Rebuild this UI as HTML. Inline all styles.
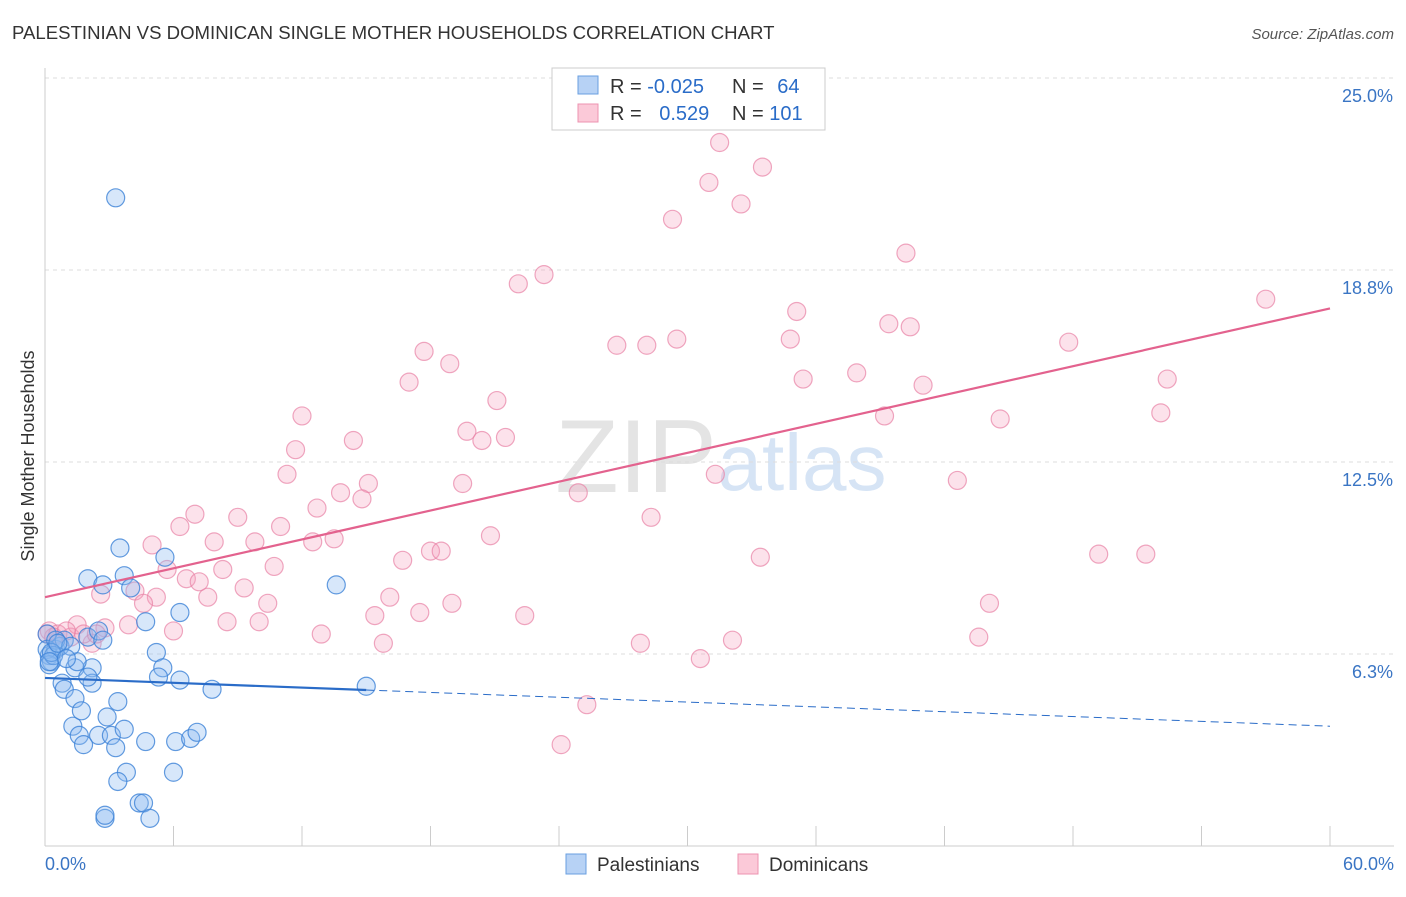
<!DOCTYPE html>
<html><head><meta charset="utf-8"><style>
body{margin:0;background:#fff;font-family:"Liberation Sans",sans-serif;}
svg text{font-family:"Liberation Sans",sans-serif;}
</style></head><body>
<svg id="chart" width="1406" height="892" viewBox="0 0 1406 892" xmlns="http://www.w3.org/2000/svg">
<text x="12" y="39" font-size="18.6" fill="#333">PALESTINIAN VS DOMINICAN SINGLE MOTHER HOUSEHOLDS CORRELATION CHART</text>
<text x="1394" y="39" font-size="15" fill="#555" font-style="italic" text-anchor="end">Source: ZipAtlas.com</text>
<text x="636" y="492" font-size="104" fill="#e4e4e4" font-family="Liberation Serif" text-anchor="middle">ZIP</text>
<text x="802" y="490" font-size="80" fill="#d6e4f5" text-anchor="middle">atlas</text>
<g id="grid"></g><g id="axes"></g><g id="pts"></g><g id="trends"></g>
<text transform="translate(34,456) rotate(-90)" font-size="18" fill="#333" text-anchor="middle">Single Mother Households</text>
<text x="45" y="870" font-size="18" fill="#3a75c4">0.0%</text>
<text x="1394" y="870" font-size="18" fill="#3a75c4" text-anchor="end">60.0%</text>
<g>
<rect x="552" y="68" width="273" height="62" fill="#fff" stroke="#ccc"/>
<rect x="578" y="76" width="20" height="18" fill="#b7d2f5" stroke="#6a9fe0"/>
<rect x="578" y="104" width="20" height="18" fill="#fbc9d8" stroke="#ec93b0"/>
<text x="610" y="93" font-size="20" fill="#333">R = <tspan fill="#2a6cc8">-0.025</tspan></text>
<text x="732" y="93" font-size="20" fill="#333">N = <tspan fill="#2a6cc8" dx="8">64</tspan></text>
<text x="610" y="120" font-size="20" fill="#333">R = <tspan fill="#2a6cc8" dx="12">0.529</tspan></text>
<text x="732" y="120" font-size="20" fill="#333">N = <tspan fill="#2a6cc8">101</tspan></text>
</g>
<g>
<rect x="566" y="854" width="20" height="20" fill="#b7d2f5" stroke="#6a9fe0"/>
<text x="597" y="871" font-size="19" fill="#333">Palestinians</text>
<rect x="738" y="854" width="20" height="20" fill="#fbc9d8" stroke="#ec93b0"/>
<text x="769" y="871" font-size="19" fill="#333">Dominicans</text>
</g>
</svg>
<script>
const yTicks=[6.25,12.5,18.75,25];
const yTickLabels=["6.3%","12.5%","18.8%","25.0%"];
const xTicks=[0,6,12,18,24,30,36,42,48,54,60];
const palX=[3.3,0.2,0.5,0.7,0.3,0.9,2.0,2.5,2.0,2.7,3.5,3.7,4.0,4.7,5.6,6.3,5.2,5.5,5.3,6.3,7.8,13.6,15.0,0.8,0.9,1.4,2.2,2.2,2.0,1.5,1.4,1.3,1.7,3.4,2.9,1.6,1.8,2.5,3.1,3.3,3.7,3.8,3.4,4.7,6.1,6.8,7.1,6.0,4.4,4.6,2.8,2.8,4.9,0.1,0.1,0.2,0.5,2.7,1.2,0.4,0.3,0.6,1.0,0.2];
const palY=[21.1,6.2,6.4,6.5,6.0,6.7,6.8,7.0,8.7,8.5,9.7,8.8,8.4,7.3,9.4,7.6,6.3,5.8,5.5,5.4,5.1,8.5,5.2,5.3,5.1,5.8,5.8,5.3,5.5,6.0,4.8,3.9,4.4,4.7,4.2,3.6,3.3,3.6,3.6,3.2,3.8,2.4,2.1,3.4,3.4,3.5,3.7,2.4,1.4,1.4,0.9,1.0,0.9,6.9,6.4,5.9,6.7,6.7,6.5,6.2,6.3,6.6,6.1,6.0];
const domX=[31.5,33.5,31.0,32.5,29.3,40.2,23.3,22.1,57.0,35.1,39.4,40.4,29.5,26.7,28.1,34.8,47.8,17.7,18.9,17.0,35.4,37.9,52.4,41.0,21.1,12.0,39.2,44.6,52.1,19.7,20.4,21.5,14.4,11.7,11.3,31.3,42.6,19.5,15.1,13.8,14.8,24.9,12.7,7.0,6.3,9.0,11.0,28.3,20.8,13.5,12.5,9.8,7.9,5.0,18.0,18.5,49.2,51.4,33.4,16.7,10.7,8.3,5.7,6.6,7.2,9.3,4.2,2.6,7.6,5.2,16.1,4.6,10.4,19.0,44.1,15.4,17.5,22.4,8.5,10.0,3.9,6.0,2.8,12.9,43.6,32.1,27.8,15.8,30.6,25.3,24.1,0.2,0.6,1.2,1.5,2.2,1.8,0.4,1.0,2.4,0.1];
const domY=[22.9,22.1,21.6,20.9,20.4,19.3,18.6,18.3,17.8,17.4,17.0,16.9,16.5,16.3,16.3,16.5,16.4,16.1,15.7,15.1,15.2,15.4,15.2,15.0,14.5,14.0,14.0,13.9,14.1,13.5,13.2,13.3,13.2,12.9,12.1,12.1,11.9,11.8,11.8,11.5,11.3,11.5,11.0,10.8,10.4,10.7,10.4,10.7,10.1,10.0,9.9,9.9,9.9,9.8,9.6,9.6,9.5,9.5,9.4,9.3,9.1,9.0,9.0,8.7,8.6,8.4,8.3,8.2,8.1,8.1,8.1,7.9,7.9,7.9,7.9,7.5,7.6,7.5,7.3,7.3,7.2,7.0,7.1,6.9,6.8,6.7,6.6,6.6,6.1,4.6,3.3,7.0,6.9,6.8,7.2,6.6,6.9,6.8,7.0,6.9,6.9];
const palTrend=[5.47,3.9];
const palSolidEnd=15.0;
const domTrend=[8.1,17.5];
const NS="http://www.w3.org/2000/svg";
const X=v=>45+v*(1285/60);
const Y=v=>846-v*(768/25);
function mk(tag,attrs,parent){const e=document.createElementNS(NS,tag);for(const k in attrs)e.setAttribute(k,attrs[k]);document.getElementById(parent).appendChild(e);return e;}
yTicks.forEach((t,i)=>{
 const g=mk('line',{x1:45,x2:1394,y1:Y(t),y2:Y(t),stroke:'#ddd','stroke-dasharray':'4,4'},'grid');
 
 
 const tx=mk('text',{x:1393,y:Y(t)+24,'font-size':18,fill:'#3a75c4','text-anchor':'end'},'grid');
 tx.textContent=yTickLabels[i];
 
 
});
const ya=mk('line',{x1:45,x2:45,y1:68,y2:846,stroke:'#ccc'},'axes');


const xa=mk('line',{x1:45,x2:1394,y1:846,y2:846,stroke:'#ccc'},'axes');


xTicks.forEach(t=>{
 const l=mk('line',{x1:X(t),x2:X(t),y1:826,y2:846,stroke:'#ccc'},'axes');
 
 
});
domX.forEach((v,i)=>{
 const c=mk('circle',{cx:X(v),cy:Y(domY[i]),r:9,fill:'rgba(245,160,190,0.3)',stroke:'rgba(232,130,165,0.7)','stroke-width':1.2},'pts');
 
 
});
palX.forEach((v,i)=>{
 const c=mk('circle',{cx:X(v),cy:Y(palY[i]),r:9,fill:'rgba(140,185,240,0.35)',stroke:'rgba(60,130,215,0.8)','stroke-width':1.2},'pts');
 
 
});
const py=x=>palTrend[0]+(palTrend[1]-palTrend[0])*x/60;
const l1=mk('line',{x1:X(0),y1:Y(domTrend[0]),x2:X(60),y2:Y(domTrend[1]),stroke:'#e3628e','stroke-width':2.2},'trends');


const l2=mk('line',{x1:X(0),y1:Y(py(0)),x2:X(palSolidEnd),y2:Y(py(palSolidEnd)),stroke:'#2a6cc8','stroke-width':2.2},'trends');


const l3=mk('line',{x1:X(palSolidEnd),y1:Y(py(palSolidEnd)),x2:X(60),y2:Y(py(60)),stroke:'#2a6cc8','stroke-width':1,'stroke-dasharray':'8,5'},'trends');


</script>
</body></html>
